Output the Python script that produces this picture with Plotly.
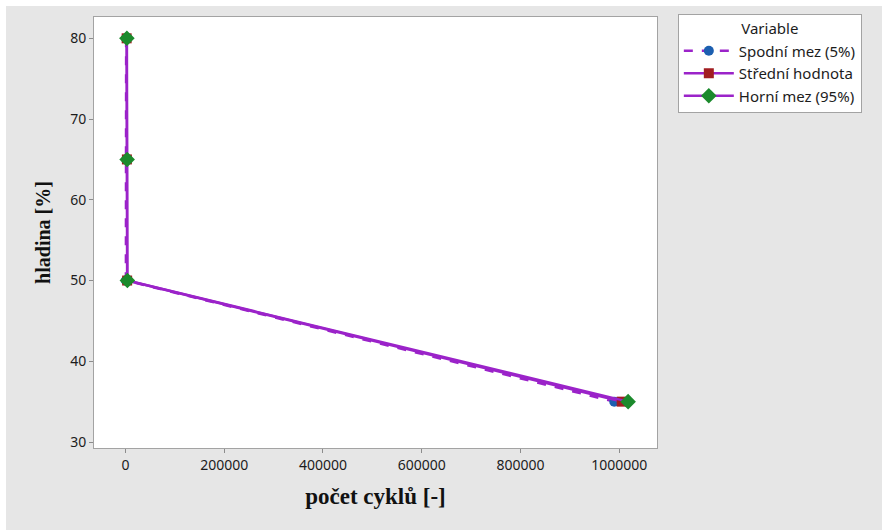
import plotly.graph_objects as go

# S-N style data: load level [%] vs. number of cycles
hladina = [80, 65, 50, 35]
spodni_cykly = [1500, 2000, 1000, 990000]      # Spodní mez (5%)
stredni_cykly = [2500, 3000, 3500, 1005000]    # Střední hodnota
horni_cykly = [3000, 3500, 4000, 1018000]      # Horní mez (95%)

series_names = ["Spodní mez (5%)", "Střední hodnota", "Horní mez (95%)"]
x_ticks = [0, 200000, 400000, 600000, 800000, 1000000]
y_ticks = [30, 40, 50, 60, 70, 80]

LINE = "#9b23c9"
GRAY_BG = "#e6e6e6"
BORDER = "#a3a3a3"
TEXT = "#1c1c1c"
TICK_FONT = dict(family="Noto Sans", size=14, color=TEXT)

fig = go.Figure()
styles = [
    (spodni_cykly, "dash", dict(symbol="circle", size=10, color="#1c5fb0")),
    (stredni_cykly, "solid", dict(symbol="square", size=10, color="#a11d21")),
    (horni_cykly, "solid", dict(symbol="diamond", size=12, color="#1b8a2c")),
]
for name, (xs, dash, marker) in zip(series_names, styles):
    fig.add_trace(go.Scatter(
        x=xs, y=hladina, name=name, mode="lines+markers",
        line=dict(color=LINE, width=2.5, dash=dash),
        marker=marker,
    ))

axis_common = dict(
    showgrid=False, zeroline=False, showline=True, mirror=True,
    linecolor=BORDER, linewidth=1, ticks="outside", ticklen=4,
    tickcolor="#8c8c8c", tickfont=TICK_FONT,
)
fig.update_xaxes(
    range=[-63600, 1076500], tickvals=x_ticks,
    ticktext=[str(v) for v in x_ticks],
    title=dict(text="<b>počet cyklů [-]</b>",
               font=dict(family="Liberation Serif", size=23, color="#111111"),
               standoff=15),
    **axis_common,
)
fig.update_yaxes(
    range=[29.26, 82.64], tickvals=y_ticks,
    title=dict(text="<b>hladina [%]</b>",
               font=dict(family="Liberation Serif", size=20, color="#111111"),
               standoff=14),
    **axis_common,
)

fig.update_layout(
    width=882, height=530,
    margin=dict(l=94, r=225, t=17, b=82),
    paper_bgcolor=GRAY_BG, plot_bgcolor="white",
    showlegend=True,
    legend=dict(
        x=1.037, y=1.007, xanchor="left", yanchor="top",
        bgcolor="white", bordercolor=BORDER, borderwidth=1,
        font=dict(family="Noto Sans", size=15, color=TEXT),
        title=dict(text="Variable", side="top center",
                   font=dict(family="Noto Sans", size=15, color=TEXT)),
        itemwidth=50,
    ),
    shapes=[
        dict(type="rect", xref="paper", yref="paper", layer="above",
             x0=-94 / 563, x1=788 / 563, y0=(448 - 6) / 431, y1=448 / 431,
             fillcolor="white", line=dict(width=0)),
        dict(type="rect", xref="paper", yref="paper", layer="above",
             x0=-94 / 563, x1=-88 / 563, y0=-82 / 431, y1=448 / 431,
             fillcolor="white", line=dict(width=0)),
    ],
)

fig.write_html("out.html")
